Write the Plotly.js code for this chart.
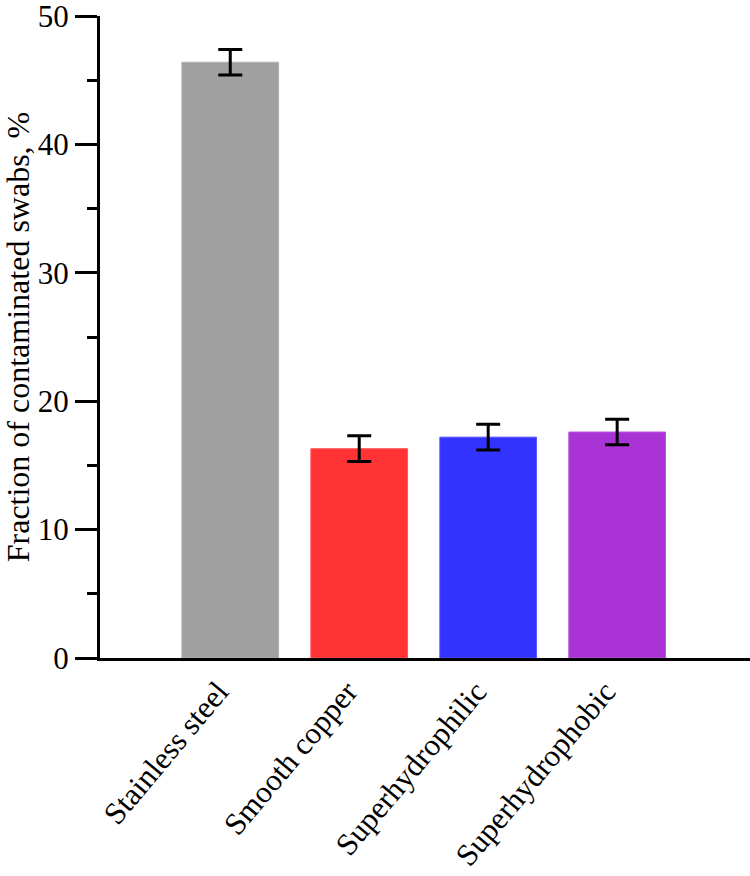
<!DOCTYPE html>
<html>
<head>
<meta charset="utf-8">
<script src="https://cdn.plot.ly/plotly-3.0.1.min.js"></script>
<style>html,body{margin:0;padding:0;background:#fff;}#chart{width:750px;height:876px;}</style>
</head>
<body>
<div id="chart"></div>
<script>
const categories = ["Stainless steel", "Smooth copper", "Superhydrophilic", "Superhydrophobic"];
const values = [46.4, 16.3, 17.2, 17.6];
const errors = [1.0, 1.0, 1.0, 1.0];
const colors = ["#a0a0a0", "#ff3333", "#3333ff", "#aa33d6"];
const borderColors = ["#b0b0b0", "#ff5555", "#5555ff", "#bb55dd"];
const yTitle = "Fraction of contaminated swabs, %";

const trace = {
  type: "bar",
  x: categories,
  y: values,
  width: 0.75,
  marker: {color: colors, line: {color: borderColors, width: 1}},
  error_y: {type: "data", array: errors, visible: true, color: "#000", thickness: 3, width: 12},
  hoverinfo: "x+y"
};

const font = {family: "'Liberation Serif', 'Times New Roman', serif", size: 31, color: "#000"};
const titleFont = {family: "'Liberation Serif', 'Times New Roman', serif", size: 32, color: "#000"};

const layout = {
  width: 750, height: 876,
  margin: {l: 100, r: 0, t: 16, b: 218},
  paper_bgcolor: "#fff", plot_bgcolor: "#fff",
  showlegend: false,
  font: font,
  xaxis: {
    type: "category",
    range: [-1.01, 4.03],
    showline: true, linecolor: "#000", linewidth: 3,
    ticks: "", tickangle: -50,
    tickfont: font,
    ticklabelshift: -12,
    showgrid: false, zeroline: false,
    automargin: false
  },
  yaxis: {
    range: [0, 50],
    tickvals: [0, 10, 20, 30, 40, 50],
    showline: true, linecolor: "#000", linewidth: 3,
    ticks: "outside", ticklen: 22, tickwidth: 3, tickcolor: "#000",
    minor: {tickvals: [5, 15, 25, 35, 45], ticks: "outside", ticklen: 10, tickwidth: 3, tickcolor: "#000", showgrid: false},
    tickfont: font,
    ticklabeloverflow: "allow",
    showgrid: false, zeroline: false,
    automargin: false,
    title: {text: yTitle, font: titleFont, standoff: 6}
  }
};

Plotly.newPlot("chart", [trace], layout, {staticPlot: true});
</script>
</body>
</html>
